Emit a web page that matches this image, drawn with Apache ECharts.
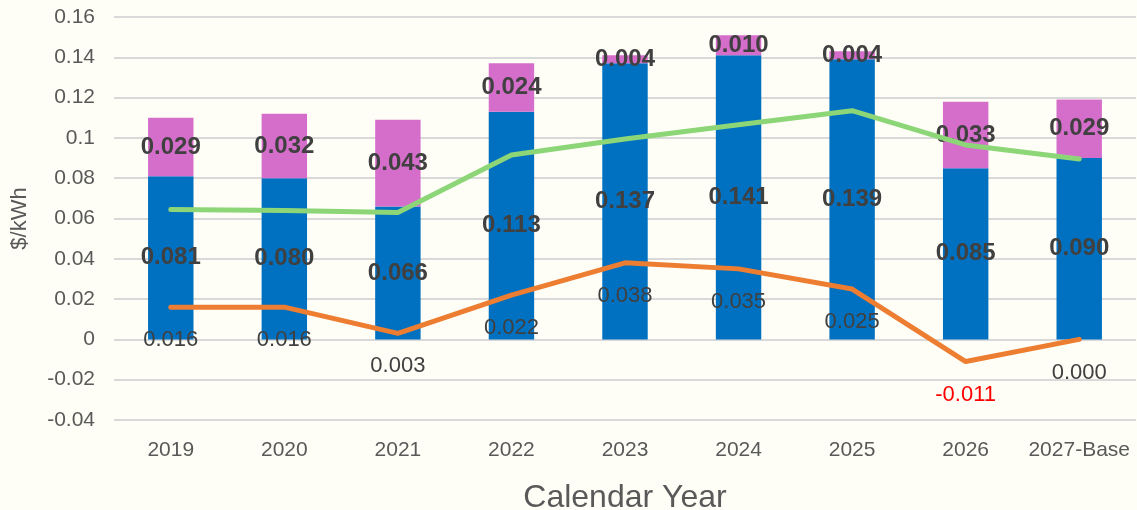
<!DOCTYPE html>
<html>
<head>
<meta charset="utf-8">
<script src="https://cdn.jsdelivr.net/npm/echarts@6/dist/echarts.min.js"></script>
<style>
html,body{margin:0;padding:0;background:#FEFEF6;}
#main{width:1137px;height:510px;}
</style>
</head>
<body>
<div id="main"></div>
<script>
const categories = ['2019','2020','2021','2022','2023','2024','2025','2026','2027-Base'];
const baseValues = [0.081,0.080,0.066,0.113,0.137,0.141,0.139,0.085,0.090];
const addValues = [0.029,0.032,0.043,0.024,0.004,0.010,0.004,0.033,0.029];
const greenValues = [0.0645,0.064,0.063,0.0915,0.0995,0.1065,0.1135,0.0965,0.0895];
const orangeValues = [0.016,0.016,0.003,0.022,0.038,0.035,0.025,-0.011,0.000];
const yTicks = [-0.04,-0.02,0,0.02,0.04,0.06,0.08,0.1,0.12,0.14,0.16];

const fontFam = 'Liberation Sans, Arial, sans-serif';
const chart = echarts.init(document.getElementById('main'));
chart.setOption({
  backgroundColor: '#FEFEF6',
  animation: false,
  grid: {left: 114, right: 1, top: 17, bottom: 90, containLabel: false, outerBoundsMode: 'none'},
  xAxis: {
    type: 'category',
    data: categories,
    position: 'bottom',
    axisLine: {show: false, onZero: false},
    axisTick: {show: false},
    axisLabel: {color: '#595959', fontSize: 21, fontFamily: fontFam, margin: 20, interval: 0},
    name: 'Calendar Year',
    nameLocation: 'middle',
    nameGap: 62,
    nameTextStyle: {color: '#595959', fontSize: 32, fontFamily: fontFam}
  },
  yAxis: {
    type: 'value',
    min: yTicks[0],
    max: yTicks[yTicks.length - 1],
    interval: 0.02,
    axisLine: {show: false},
    axisTick: {show: false},
    splitLine: {lineStyle: {color: '#D9D9D9', width: 2}},
    axisLabel: {
      color: '#595959', fontSize: 21, fontFamily: fontFam, margin: 19,
      formatter: v => String(parseFloat(v.toFixed(2)))
    },
    name: '$/kWh',
    nameLocation: 'middle',
    nameGap: 83,
    nameRotate: 90,
    nameTextStyle: {color: '#595959', fontSize: 22, fontFamily: fontFam}
  },
  series: [
    {
      name: 'Base', type: 'bar', stack: 'total', data: baseValues, barWidth: '40%',
      itemStyle: {color: '#0070C0'}, z: 2,
      label: {show: true, position: 'inside', color: '#404040', fontWeight: 'bold', fontSize: 24, fontFamily: fontFam,
        formatter: p => p.value.toFixed(3)}
    },
    {
      name: 'Add', type: 'bar', stack: 'total', data: addValues, barWidth: '40%',
      itemStyle: {color: '#D56ECB'}, z: 2,
      label: {show: true, position: 'inside', color: '#404040', fontWeight: 'bold', fontSize: 24, fontFamily: fontFam,
        formatter: p => p.value.toFixed(3)}
    },
    {
      name: 'Green', type: 'line', data: greenValues, showSymbol: false, symbol: 'none',
      lineStyle: {color: '#8CD678', width: 5, cap: 'round'}, z: 3
    },
    {
      name: 'Orange', type: 'line', data: orangeValues.map(v => ({
        value: v,
        label: {color: v < 0 ? '#FF0000' : '#404040'}
      })), showSymbol: true, symbol: 'circle', symbolSize: 0.1,
      itemStyle: {color: '#ED7D31'},
      lineStyle: {color: '#ED7D31', width: 5, cap: 'round'}, z: 4,
      label: {show: true, position: 'bottom', distance: 22, fontSize: 22, fontFamily: fontFam,
        formatter: p => p.value.toFixed(3)}
    }
  ]
});
</script>
</body>
</html>
